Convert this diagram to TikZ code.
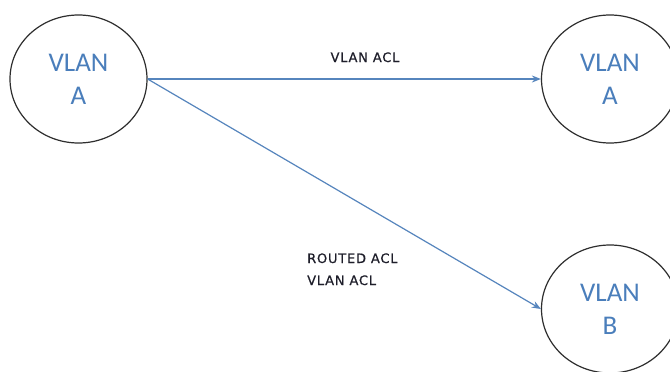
\documentclass[tikz,border=0pt]{standalone}
\usepackage{fontspec}
\setmainfont{Carlito}
\newfontfamily\lblfont[LetterSpace=6,FakeBold=0.6]{DejaVu Sans}
\usetikzlibrary{shapes.geometric,arrows.meta}
\definecolor{vblue}{HTML}{4A7EBB}
\definecolor{lblue}{HTML}{5685BD}
\definecolor{ring}{HTML}{2E2E2E}
\definecolor{lbl}{HTML}{1E1E2A}
\tikzset{
  vlan/.style={ellipse, draw=ring, line width=1.2pt, minimum width=137pt, minimum height=128pt,
    inner sep=0pt, align=center, text=vblue, font=\fontsize{27}{33}\selectfont},
  link/.style={draw=lblue, line width=1.2pt, -{Stealth[length=9pt,width=7pt]}},
  acl/.style={text=lbl, font=\lblfont\fontsize{13}{15}\selectfont, inner sep=0pt}
}
\begin{document}
\begin{tikzpicture}[x=1pt,y=-1pt]
\useasboundingbox (0,0) rectangle (670,372);
\fill[white] (0,0) rectangle (670,372);
\clip (0,0) rectangle (670,372);
\node[vlan] (a) at (78.5,79) {VLAN\\A};
\node[vlan] (b) at (610,79) {VLAN\\A};
\node[vlan] (c) at (610,309) {VLAN\\B};
\draw[link] (a.east) -- (b.west);
\draw[link] (a.east) -- (c.west);
\node[acl, anchor=base] (l1) at (365,62) {VLAN ACL};
\node[acl, anchor=base west] (l2) at (307,263) {ROUTED ACL};
\node[acl, anchor=base west] (l3) at (307,285) {VLAN ACL};
\end{tikzpicture}
\end{document}
